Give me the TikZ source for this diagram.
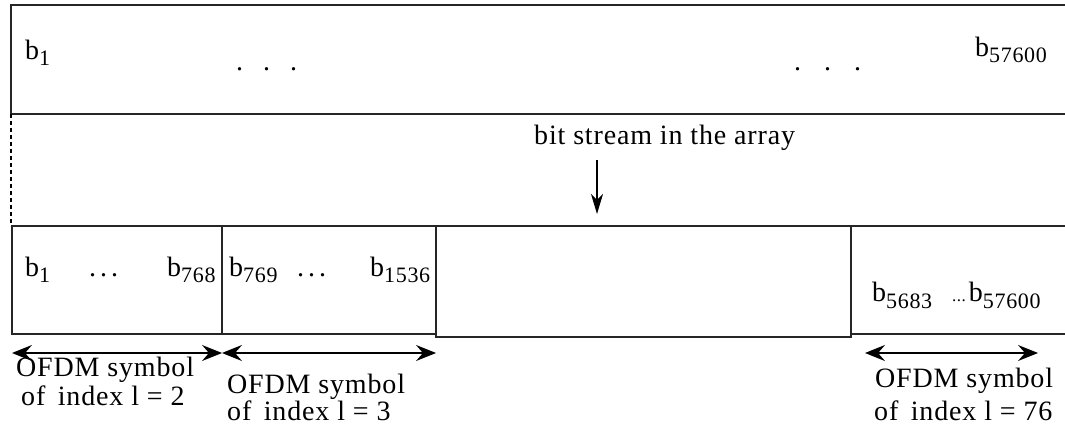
\documentclass[tikz,border=0pt]{standalone}
\usepackage{fontspec}
\setmainfont{Liberation Serif}[LetterSpace=3.0]
\usetikzlibrary{arrows.meta}

% b with a lowered, smaller index
\newcommand\bsb[1]{b\raisebox{-6pt}{\fontsize{22}{24}\selectfont #1}}

\tikzset{
  lbl/.style={anchor=base west, inner sep=0pt, font=\fontsize{28}{30}\selectfont},
  frame/.style={line width=1.6pt, draw=black!85},
  cell/.style={frame, rectangle, inner sep=0pt, outer sep=0pt, anchor=north west},
  span/.style={line width=1.3pt,
    {Stealth[length=20pt,width=16pt,inset=7pt]}-{Stealth[length=20pt,width=16pt,inset=7pt]}},
  feed/.style={line width=1.3pt, -{Stealth[length=20pt,width=12pt,inset=6pt]}},
}

\begin{document}
\begin{tikzpicture}[x=1pt,y=-1pt]
\useasboundingbox (0,0) rectangle (1065,435);

% the whole array (open on the right)
\draw[frame] (1067,5) -- (11,5) -- (11,114) -- (1067,114);
\node[lbl] (a1) at (25,60) {\bsb{1}};
\node[lbl] (d1) at (236,71) {.\hspace{20pt}.\hspace{20pt}.};
\node[lbl] (d2) at (794,71) {.\hspace{23pt}.\hspace{23pt}.};
\node[lbl] (aN) at (975,57) {\bsb{57600}};

% dashed guide between the array and the symbols
\draw[line width=1.3pt, dash pattern=on 4pt off 3pt] (11,114) -- (11,226);

% title and pointer
\node[lbl] (title) at (534,145) {bit stream in the array};
\coordinate (ptop) at (597,160);
\coordinate (ptip) at (597,214);
\draw[feed] (ptop) -- (ptip);

% symbol cells
\node[cell, minimum width=210pt, minimum height=108pt] (s2) at (12,226) {};
\node[cell, minimum width=214pt, minimum height=108pt] (s3) at (222,226) {};
\node[cell, minimum width=415pt, minimum height=111pt] (sm) at (436,226) {};
\draw[frame] (851,226) -- (1067,226);
\draw[frame] (851,334) -- (1067,334);
\coordinate (s76w) at (851,334);

\node[lbl] (c1) at (25,277) {\bsb{1}};
\node[lbl] (c2) at (89,277) {.\hspace{4pt}.\hspace{4pt}.};
\node[lbl] (c3) at (167,277) {\bsb{768}};
\node[lbl] (c4) at (229,277) {\bsb{769}};
\node[lbl] (c5) at (297,277) {.\hspace{4pt}.\hspace{4pt}.};
\node[lbl] (c6) at (370,277) {\bsb{1536}};
\node[lbl] (c7) at (872,302) {\bsb{5683}\hspace{20pt}{\fontsize{17}{18}\selectfont...}\hspace{3pt}\bsb{57600}};

% extent of each OFDM symbol
\draw[span] ([yshift=-19pt]s2.south west) -- ([yshift=-19pt]s2.south east);
\draw[span] ([yshift=-19pt]s3.south west) -- ([yshift=-19pt]s3.south east);
\coordinate (e1) at (865,353);
\coordinate (e2) at (1038,353);
\draw[span] (e1) -- (e2);

\node[lbl] (l2a) at (16,377) {OFDM symbol};
\node[lbl] (l2b) at (21,405) {of\, index l = 2};
\node[lbl] (l3a) at (227,393) {OFDM symbol};
\node[lbl] (l3b) at (227,420) {of\, index l = 3};
\node[lbl] (l4a) at (875,387) {OFDM symbol};
\node[lbl] (l4b) at (874,420) {of\, index l = 76};
\end{tikzpicture}
\end{document}
